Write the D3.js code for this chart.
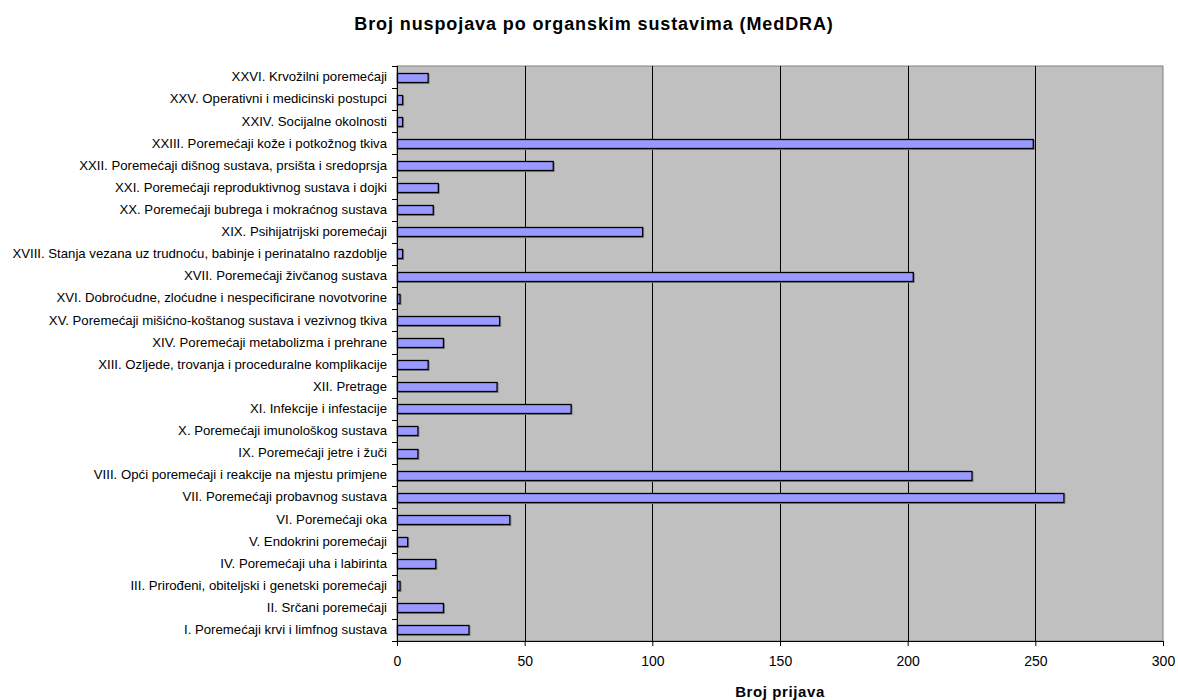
<!DOCTYPE html>
<html><head><meta charset="utf-8">
<script src="https://cdn.jsdelivr.net/npm/d3@7"></script>
<style>body{margin:0;background:#fff}svg{display:block}text{font-family:Arial,"Liberation Sans",sans-serif}</style>
</head><body><svg id="c" width="1178" height="700"></svg>
<script>
const categories = [
"I. Poremećaji krvi i limfnog sustava",
"II. Srčani poremećaji",
"III. Prirođeni, obiteljski i genetski poremećaji",
"IV. Poremećaji uha i labirinta",
"V. Endokrini poremećaji",
"VI. Poremećaji oka",
"VII. Poremećaji probavnog sustava",
"VIII. Opći poremećaji i reakcije na mjestu primjene",
"IX. Poremećaji jetre i žuči",
"X. Poremećaji imunološkog sustava",
"XI. Infekcije i infestacije",
"XII. Pretrage",
"XIII. Ozljede, trovanja i proceduralne komplikacije",
"XIV. Poremećaji metabolizma i prehrane",
"XV. Poremećaji mišićno-koštanog sustava i vezivnog tkiva",
"XVI. Dobroćudne, zloćudne i nespecificirane novotvorine",
"XVII. Poremećaji živčanog sustava",
"XVIII. Stanja vezana uz trudnoću, babinje i perinatalno razdoblje",
"XIX. Psihijatrijski poremećaji",
"XX. Poremećaji bubrega i mokraćnog sustava",
"XXI. Poremećaji reproduktivnog sustava i dojki",
"XXII. Poremećaji dišnog sustava, prsišta i sredoprsja",
"XXIII. Poremećaji kože i potkožnog tkiva",
"XXIV. Socijalne okolnosti",
"XXV. Operativni i medicinski postupci",
"XXVI. Krvožilni poremećaji"
];
const values = [28,18,1,15,4,44,261,225,8,8,68,39,12,18,40,1,202,2,96,14,16,61,249,2,2,12];
const xTicks = [0,50,100,150,200,250,300];
const title = "Broj nuspojava po organskim sustavima (MedDRA)";
const xTitle = "Broj prijava";

const svg = d3.select("#c");
const L = 397, R = 1163, T = 66, B = 641;
const x = d3.scaleLinear().domain([0,300]).range([L,R]);
const y = d3.scaleBand().domain(categories.slice().reverse()).range([T,B]);

svg.append("rect").attr("x",L).attr("y",T).attr("width",R-L).attr("height",B-T)
  .attr("fill","#C0C0C0").attr("stroke","#808080").attr("stroke-width",1);

svg.append("g").selectAll("line").data(xTicks.filter(d=>d>0&&d<300)).join("line")
  .attr("x1",d=>Math.round(x(d))+0.5).attr("x2",d=>Math.round(x(d))+0.5)
  .attr("y1",T).attr("y2",B).attr("stroke","#000").attr("stroke-width",1);

const bh = 9;
const bars = categories.map((c,i)=>({c,v:values[i]}));
svg.append("g").selectAll("rect").data(bars).join("rect")
  .attr("x",x(0)+1.5).attr("y",d=>Math.round(y(d.c)+y.bandwidth()/2-bh/2)+1.5)
  .attr("width",d=>x(d.v)-x(0)).attr("height",bh)
  .attr("fill","none").attr("stroke","#808080").attr("stroke-width",1);
svg.append("g").selectAll("rect").data(bars).join("rect")
  .attr("x",x(0)+0.5).attr("y",d=>Math.round(y(d.c)+y.bandwidth()/2-bh/2)+0.5)
  .attr("width",d=>x(d.v)-x(0)).attr("height",bh)
  .attr("fill","#9999FF").attr("stroke","#000").attr("stroke-width",1.3);

const xa = svg.append("g").attr("transform",`translate(0,${B})`)
  .call(d3.axisBottom(x).tickValues(xTicks).tickSize(5).tickPadding(10).tickFormat(d3.format("d")));
xa.select(".domain").attr("stroke","#000");
xa.selectAll("text").attr("font-size",14).attr("fill","#000").attr("font-family","Arial, 'Liberation Sans', sans-serif");

const ya = svg.append("g").attr("transform",`translate(${L},0)`)
  .call(d3.axisLeft(y).tickSize(0).tickPadding(10));
ya.select(".domain").remove();
ya.selectAll("text").attr("font-size",13.2).attr("fill","#000").attr("font-family","Arial, 'Liberation Sans', sans-serif");
const bounds = d3.range(categories.length+1).map(i=>T+i*y.step());
svg.append("g").selectAll("line").data(bounds).join("line")
  .attr("x1",L-5).attr("x2",L).attr("y1",d=>Math.round(d)+0.5).attr("y2",d=>Math.round(d)+0.5)
  .attr("stroke","#000");
svg.append("line").attr("x1",L+0.5).attr("x2",L+0.5).attr("y1",T).attr("y2",B).attr("stroke","#000");

svg.append("text").attr("x",594).attr("y",30).attr("text-anchor","middle")
  .attr("font-size",18).attr("font-weight","bold").attr("letter-spacing",0.9).text(title);
svg.append("text").attr("x",780).attr("y",697).attr("text-anchor","middle")
  .attr("font-size",15).attr("font-weight","bold").attr("letter-spacing",0.6).text(xTitle);
</script></body></html>
